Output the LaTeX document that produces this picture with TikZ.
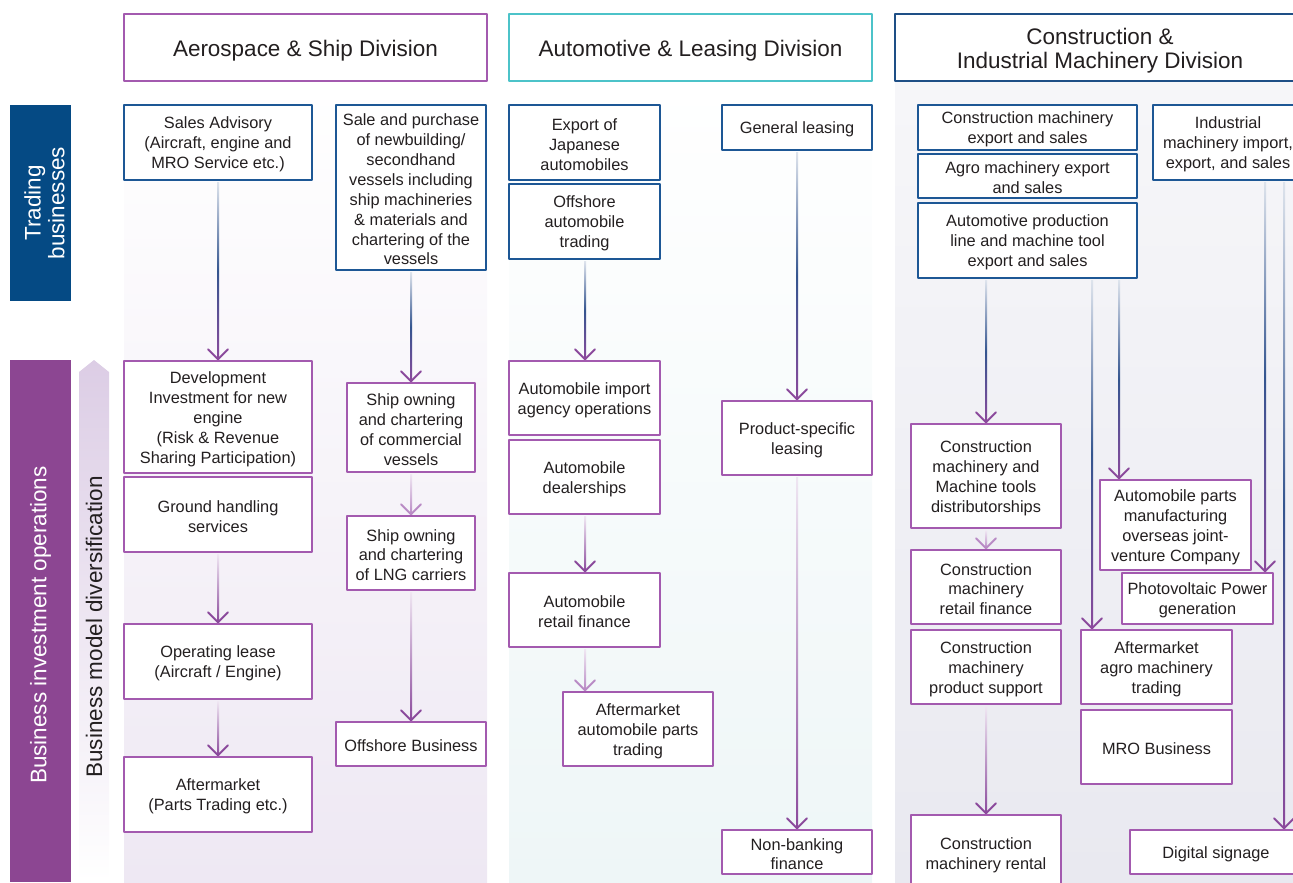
\documentclass[tikz,border=0pt]{standalone}
\usepackage{fontspec}
\setmainfont{Liberation Sans}
\usetikzlibrary{calc}

\definecolor{ink}{HTML}{231F20}
\definecolor{tradeblue}{HTML}{1D5795}
\definecolor{investpurple}{HTML}{A35AAF}
\definecolor{barblue}{HTML}{054A84}
\definecolor{barpurple}{HTML}{8C4692}
\definecolor{autocyan}{HTML}{4CC3C9}
\definecolor{machblue}{HTML}{1E4F86}
\definecolor{flowpurple}{HTML}{8B4A9C}
\definecolor{flowsoft}{HTML}{B98BC5}
\definecolor{flowblue}{HTML}{34558F}
\definecolor{flowpale}{HTML}{DDE3EC}
\definecolor{flowlilac}{HTML}{EFE6F2}
\definecolor{divlilac}{HTML}{DCCDE5}
\definecolor{colaero}{HTML}{EEE8F3}
\definecolor{colauto}{HTML}{EEF6F7}
\definecolor{colmach}{HTML}{E9E9F0}

% taller first line, so the text sits a little low in its box
\newcommand{\boxstrut}{\rule{0pt}{9.1pt}}
\newcommand{\headstrut}{\rule{0pt}{12.6pt}}

\tikzset{
  box/.style={draw, line width=0.8pt, fill=white, text=ink, align=center, inner sep=1pt,
    font=\fontsize{9.3}{11.3}\selectfont},
  tradebox/.style={box, draw=tradeblue},
  investbox/.style={box, draw=investpurple},
  divhead/.style={draw, line width=0.8pt, fill=white, text=ink, align=center,
    font=\fontsize{12.8}{13.6}\selectfont},
  sidetext/.style={rotate=90, align=center, font=\fontsize{12.8}{13.6}\selectfont},
  sz/.style 2 args={minimum width=#1*0.02cm, minimum height=#2*0.02cm},
  tradeflow/.style={top color=flowpale, bottom color=flowpurple, middle color=flowblue},
  investflow/.style={top color=flowlilac, bottom color=flowpurple},
  investsoft/.style={top color=flowlilac, bottom color=flowsoft},
  tip/.style={line width=1.1pt}
}

\begin{document}
\begin{tikzpicture}[x=0.02cm, y=-0.02cm, line cap=round, line join=round]
  \useasboundingbox (0,0) rectangle (1293,882);
  \begin{scope}
  \clip (0,0) rectangle (1293,882);

  % column panels
  \shade[top color=white, bottom color=colaero] (124,82) rectangle (487,882);
  \shade[top color=white, bottom color=colauto] (509,82) rectangle (872,882);
  \shade[top color=colmach!40, bottom color=colmach] (895,82) rectangle (1293,882);

  % left side bars
  \fill[barblue] (10,105) rectangle (71,301);
  \node[sidetext, text=white] (tradelbl) at (44.5,203) {Trading\\businesses};
  \fill[barpurple] (10,360) rectangle (71,882);
  \node[sidetext, text=white] (investlbl) at (40.5,625) {Business investment operations};
  \shade[top color=divlilac, bottom color=white] (79,882) -- (79,372) -- (94,360) -- (109,372) -- (109,882) -- cycle;
  \node[sidetext, text=ink] (divlbl) at (94,627) {Business model diversification};

  % division headers
  \node[divhead, draw=investpurple, sz={363}{67}] (aero) at (305.5,47.5) {\headstrut Aerospace \& Ship Division};
  \node[divhead, draw=autocyan, sz={363}{67}] (auto) at (690.5,47.5) {\headstrut Automotive \& Leasing Division};
  \node[divhead, draw=machblue, sz={410}{67}] (mach) at (1100,47.5) {\headstrut Construction \&\\Industrial Machinery Division};

  % trading businesses
  \node[tradebox, sz={188}{75}] (SA) at (218,142.5) {\boxstrut Sales Advisory\\(Aircraft, engine and\\MRO Service etc.)};
  \node[tradebox, sz={150}{165}] (SP) at (411,187.5) {\boxstrut Sale and purchase\\of newbuilding/\\secondhand\\vessels including\\ship machineries\\\& materials and\\chartering of the\\vessels};
  \node[tradebox, sz={151}{75}] (EJ) at (584.5,142.5) {\boxstrut Export of\\Japanese\\automobiles};
  \node[tradebox, sz={151}{75}] (OA) at (584.5,221.5) {\boxstrut Offshore\\automobile\\trading};
  \node[tradebox, sz={150}{45}] (GL) at (797,127.5) {\boxstrut General leasing};
  \node[tradebox, sz={219}{45}] (CM) at (1027.5,127.5) {\boxstrut Construction machinery\\export and sales};
  \node[tradebox, sz={219}{44}] (AG) at (1027.5,176) {\boxstrut Agro machinery export\\and sales};
  \node[tradebox, sz={219}{75}] (AP) at (1027.5,240.5) {\boxstrut Automotive production\\line and machine tool\\export and sales};
  \node[tradebox, sz={150}{75}] (IM) at (1228,142.5) {\boxstrut Industrial\\machinery import,\\export, and sales};

  % investment operations
  \node[investbox, sz={188}{112}] (DI) at (218,417) {\boxstrut Development\\Investment for new\\engine\\(Risk \& Revenue\\Sharing Participation)};
  \node[investbox, sz={188}{75}] (GH) at (218,514.5) {\boxstrut Ground handling\\services};
  \node[investbox, sz={188}{75}] (OL) at (218,661.5) {\boxstrut Operating lease\\(Aircraft / Engine)};
  \node[investbox, sz={188}{75}] (AM) at (218,794.5) {\boxstrut Aftermarket\\(Parts Trading etc.)};
  \node[investbox, sz={128}{89}] (SO) at (411,427.5) {\boxstrut Ship owning\\and chartering\\of commercial\\vessels};
  \node[investbox, sz={128}{74}] (LNG) at (411,553) {\boxstrut Ship owning\\and chartering\\of LNG carriers};
  \node[investbox, sz={150}{44}] (OB) at (411,744) {\boxstrut Offshore Business};
  \node[investbox, sz={151}{74}] (AI) at (584.5,398) {\boxstrut Automobile import\\agency operations};
  \node[investbox, sz={151}{74}] (AD) at (584.5,477) {\boxstrut Automobile\\dealerships};
  \node[investbox, sz={151}{74}] (AR) at (584.5,610) {\boxstrut Automobile\\retail finance};
  \node[investbox, sz={150}{74}] (AA) at (638,729) {\boxstrut Aftermarket\\automobile parts\\trading};
  \node[investbox, sz={150}{74}] (PL) at (797,438) {\boxstrut Product-specific\\leasing};
  \node[investbox, sz={150}{44}] (NB) at (797,852) {\boxstrut Non-banking\\finance};
  \node[investbox, sz={150}{104}] (CD) at (986,476) {\boxstrut Construction\\machinery and\\Machine tools\\distributorships};
  \node[investbox, sz={150}{74}] (CR) at (986,587) {\boxstrut Construction\\machinery\\retail finance};
  \node[investbox, sz={150}{74}] (CP) at (986,667) {\boxstrut Construction\\machinery\\product support};
  \node[investbox, sz={150}{76}] (CRent) at (986,853) {\boxstrut Construction\\machinery rental};
  \node[investbox, sz={151}{90}] (AJ) at (1175.5,525) {\boxstrut Automobile parts\\manufacturing\\overseas joint-\\venture Company};
  \node[investbox, sz={151}{51}] (PV) at (1197.5,598.5) {\boxstrut Photovoltaic Power\\generation};
  \node[investbox, sz={151}{74}] (AT) at (1156.5,667) {\boxstrut Aftermarket\\agro machinery\\trading};
  \node[investbox, sz={151}{74}] (MRO) at (1156.5,747) {\boxstrut MRO Business};
  \node[investbox, sz={172}{44}] (DS) at (1216,852) {\boxstrut Digital signage};

  % flows
  \foreach \a/\b/\x/\f/\k in {SA/DI/218/tradeflow/flowpurple, GH/OL/218/investflow/flowpurple,
      OL/AM/218/investflow/flowpurple, SP/SO/411/tradeflow/flowpurple, SO/LNG/411/investsoft/flowsoft,
      LNG/OB/411/investflow/flowpurple, OA/AI/585/tradeflow/flowpurple, AD/AR/585/investflow/flowpurple,
      AR/AA/585/investsoft/flowsoft, GL/PL/797/tradeflow/flowpurple, PL/NB/797/investflow/flowpurple,
      AP/CD/986/tradeflow/flowpurple, CD/CR/986/investsoft/flowsoft, CP/CRent/986/investflow/flowpurple,
      AP/AT/1092/tradeflow/flowpurple, AP/AJ/1119/tradeflow/flowpurple,
      IM/PV/1265/tradeflow/flowpurple, IM/DS/1284/tradeflow/flowpurple}{
    \shade[\f] ($(\a.south -| \x,0)+(-1,2)$) rectangle ($(\b.north -| \x,0)+(1,-1)$);
    \draw[tip, draw=\k] ($(\b.north -| \x,0)+(-10,-11)$) -- ($(\b.north -| \x,0)+(0,-1)$) -- ($(\b.north -| \x,0)+(10,-11)$);
  }
  \end{scope}
\end{tikzpicture}
\end{document}
